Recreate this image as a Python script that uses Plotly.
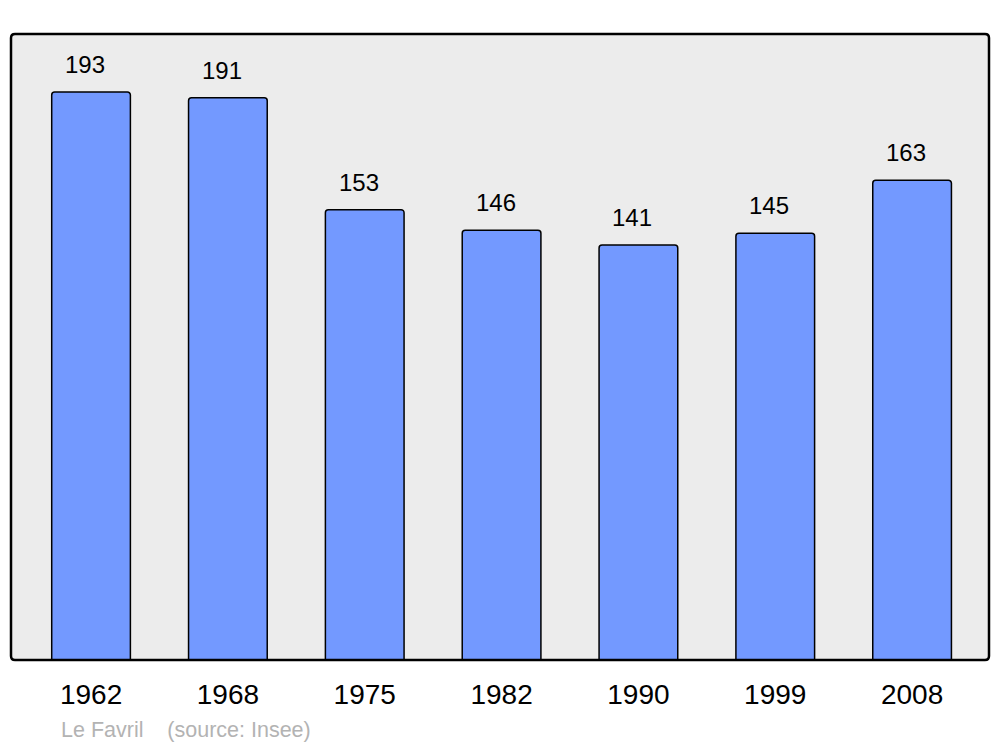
import plotly.graph_objects as go

years = ["1962", "1968", "1975", "1982", "1990", "1999", "2008"]
population = [193, 191, 153, 146, 141, 145, 163]
commune = "Le Favril"
source = "(source: Insee)"

W, H = 1000, 747
ml, mr, mt, mb = 11, 11, 34, 87

fig = go.Figure()
fig.add_trace(go.Bar(
    x=list(range(len(years))), y=population,
    width=0.575,
    marker=dict(color="#7399ff", line=dict(color="#000000", width=1.5), cornerradius=3),
    hoverinfo="skip",
))

for i, v in enumerate(population):
    fig.add_annotation(x=i, y=v, text=str(v), showarrow=False, yanchor="bottom",
                       yshift=12, xshift=-6,
                       font=dict(family="Liberation Sans, Arial, sans-serif", size=24, color="#000"))

# rounded plot-area frame
pw, ph = W - ml - mr, H - mt - mb
rx, ry = 4 / pw, 4 / ph
path = (f"M {rx},0 L {1-rx},0 Q 1,0 1,{ry} L 1,{1-ry} Q 1,1 {1-rx},1 "
        f"L {rx},1 Q 0,1 0,{1-ry} L 0,{ry} Q 0,0 {rx},0 Z")
fig.add_shape(type="path", path=path, xref="paper", yref="paper",
              line=dict(color="#000000", width=2.5), layer="above")

fig.add_annotation(x=(59 - ml) / pw, y=(H - mb - 730) / ph, xref="paper", yref="paper",
                   text=commune + "&nbsp;&nbsp;&nbsp;&nbsp;" + source,
                   showarrow=False, xanchor="left", yanchor="middle",
                   font=dict(family="Liberation Sans, Arial, sans-serif", size=21.5, color="#b3b3b3"))

fig.update_layout(
    width=W, height=H,
    margin=dict(l=ml, r=mr, t=mt, b=mb, pad=0),
    paper_bgcolor="#ffffff", plot_bgcolor="#ececec",
    showlegend=False,
    xaxis=dict(range=[-0.585, 6.562], tickmode="array", tickvals=list(range(len(years))),
               ticktext=years, showgrid=False, zeroline=False, ticks="",
               ticklabelstandoff=15,
               tickfont=dict(family="Liberation Sans, Arial, sans-serif", size=28, color="#000")),
    yaxis=dict(range=[0, 212.7], showgrid=False, zeroline=False, showticklabels=False, ticks=""),
)

fig.write_html("out.html", config={"displayModeBar": False, "staticPlot": True},
               post_script="document.body.style.margin='0';document.body.style.overflow='hidden';")
